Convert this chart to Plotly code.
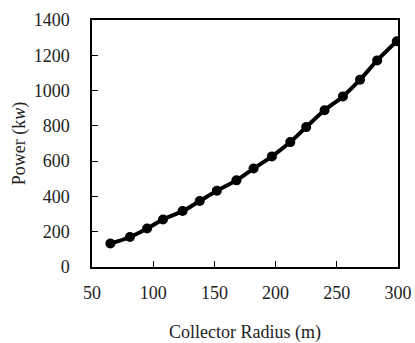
import plotly.graph_objects as go

radius_m = [65, 81, 95, 108, 124, 138, 152, 168, 182, 197, 212, 225, 240, 255, 269, 283, 299]
power_kw = [133, 170, 218, 269, 317, 374, 432, 491, 558, 627, 708, 793, 888, 967, 1062, 1171, 1280]

x_ticks = [50, 100, 150, 200, 250, 300]
y_ticks = [0, 200, 400, 600, 800, 1000, 1200, 1400]

font_family = "Liberation Serif"

fig = go.Figure()
fig.add_trace(go.Scatter(
    x=radius_m, y=power_kw,
    mode="lines+markers",
    line=dict(color="black", width=4, shape="spline"),
    marker=dict(color="black", size=10),
    showlegend=False,
))

fig.update_layout(
    width=415, height=343,
    margin=dict(l=92, r=17, t=20, b=76),
    paper_bgcolor="white", plot_bgcolor="white",
    font=dict(family=font_family, size=18, color="#222"),
    xaxis=dict(
        range=[50, 300], tickvals=x_ticks,
        ticks="inside", ticklen=6, tickwidth=1.3, tickcolor="black",
        showline=True, linecolor="black", linewidth=1.5, mirror=True,
        showgrid=False, zeroline=False, automargin=False,
        ticklabelstandoff=9,
        title=dict(text="Collector Radius (m)", standoff=33, font=dict(size=18)),
    ),
    yaxis=dict(
        range=[0, 1400], tickvals=y_ticks,
        ticks="inside", ticklen=6, tickwidth=1.3, tickcolor="black",
        showline=True, linecolor="black", linewidth=1.5, mirror=True,
        showgrid=False, zeroline=False, automargin=False,
        ticklabelstandoff=17,
        title=dict(text="Power (k<i>w</i>)", standoff=3, font=dict(size=18)),
    ),
)

fig.write_html("out.html", config={"displayModeBar": False},
               post_script="document.body.style.margin='0';")
